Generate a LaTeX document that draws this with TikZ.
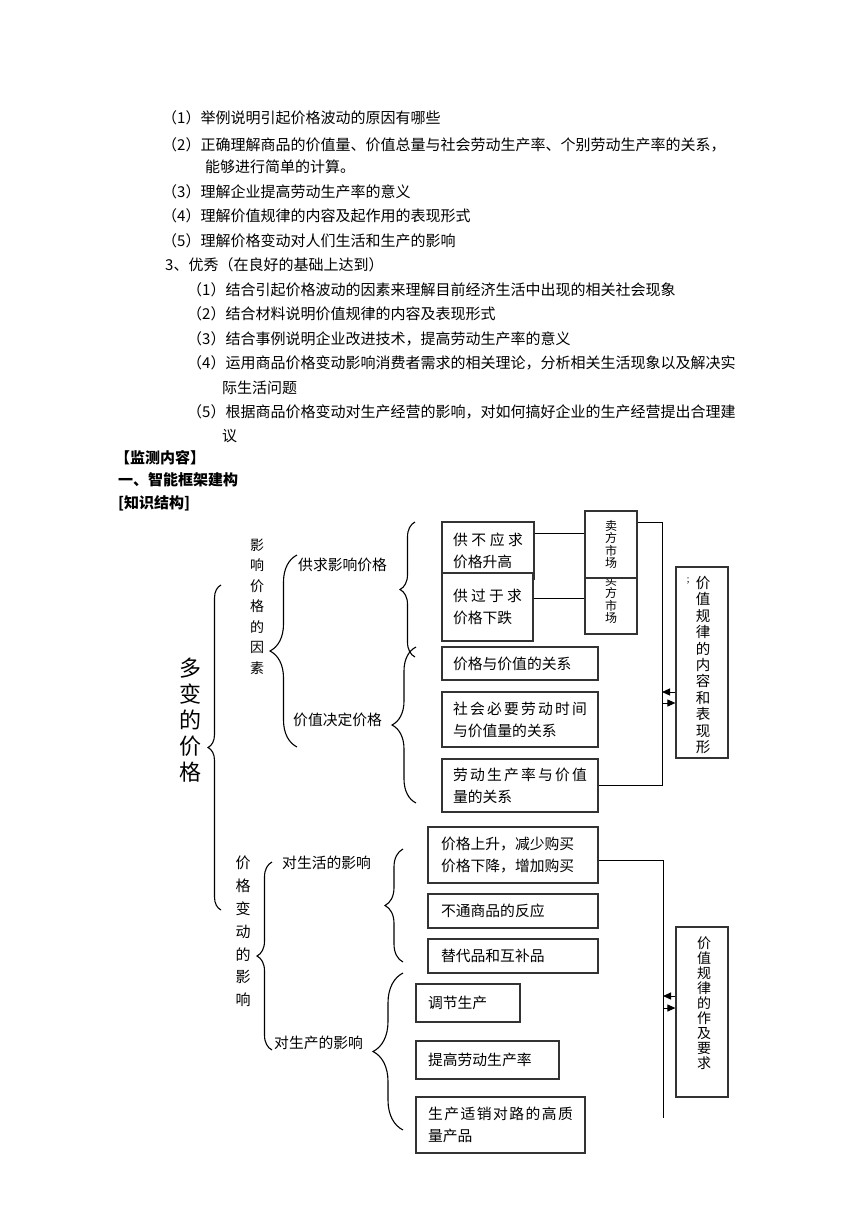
\documentclass[tikz,border=0pt]{standalone}
\usepackage{fontspec}
\setmainfont{Noto Sans CJK SC}
\usetikzlibrary{arrows.meta,decorations.pathreplacing}
\begin{document}
\begin{tikzpicture}[x=1pt,y=-1pt,
  every node/.style={inner sep=0pt},
  txt/.style={anchor=west,font=\fontsize{15}{18}\selectfont},
  hd/.style={anchor=west,font=\fontsize{15}{18}\selectfont\bfseries},
  bx/.style={draw=black!80,line width=1.2pt,fill=white,font=\fontsize{14.8}{22}\selectfont,align=left,inner xsep=11pt},
  vbx/.style={draw=black!80,line width=1.2pt,fill=white,minimum width=52pt},
  lbl/.style={anchor=west,font=\fontsize{14.8}{18}\selectfont},
  conn/.style={line width=1pt},
  arr/.style={line width=1pt,-{Triangle[length=8pt,width=7pt]}},
  brc/.style={decorate,line width=1.1pt},
]
\fill[white] (0,0) rectangle (860,1216);
\useasboundingbox (0,0) rectangle (860,1216);

% ---------- top text ----------
\node[txt] (t1) at (162,118) {（1）举例说明引起价格波动的原因有哪些};
\node[txt] (t2) at (162,145) {（2）正确理解商品的价值量、价值总量与社会劳动生产率、个别劳动生产率的关系，};
\node[txt] (t2b) at (205,167) {能够进行简单的计算。};
\node[txt] (t3) at (162,192) {（3）理解企业提高劳动生产率的意义};
\node[txt] (t4) at (162,216) {（4）理解价值规律的内容及起作用的表现形式};
\node[txt] (t5) at (162,241) {（5）理解价格变动对人们生活和生产的影响};
\node[txt] (s3) at (165,265) {3、优秀（在良好的基础上达到）};
\node[txt] (e1) at (187,290) {（1）结合引起价格波动的因素来理解目前经济生活中出现的相关社会现象};
\node[txt] (e2) at (187,314) {（2）结合材料说明价值规律的内容及表现形式};
\node[txt] (e3) at (187,339) {（3）结合事例说明企业改进技术，提高劳动生产率的意义};
\node[txt] (e4) at (187,363) {（4）运用商品价格变动影响消费者需求的相关理论，分析相关生活现象以及解决实};
\node[txt] (e4b) at (222,388) {际生活问题};
\node[txt] (e5) at (187,412) {（5）根据商品价格变动对生产经营的影响，对如何搞好企业的生产经营提出合理建};
\node[txt] (e5b) at (222,436) {议};
\node[hd] (h1) at (115,458) {【监测内容】};
\node[hd] (h2) at (118,480) {一、智能框架建构};
\node[hd] (h3) at (118,503) {[知识结构]};

% ---------- upper diagram ----------
\node[font=\fontsize{22}{26}\selectfont,align=center] (dbj) at (190,720) {多\\变\\的\\价\\格};
\node[font=\fontsize{14}{20.5}\selectfont,align=center] (yx) at (257,606.5) {影\\响\\价\\格\\的\\因\\素};
\node[lbl] (gq) at (298,565) {供求影响价格};
\node[lbl] (jz) at (293,720) {价值决定价格};

\draw[brc,decoration={brace,amplitude=13pt}] (221,910) -- (221,585);
\draw[brc,decoration={brace,amplitude=27pt}] (297,747) -- (297,555);
\draw[brc,decoration={brace,amplitude=15pt}] (415,657) -- (415,522);
\draw[brc,decoration={brace,amplitude=24pt}] (416,803) -- (416,647);

\node[bx,text width=70pt,minimum height=57pt] (g1) at (488,550.5)
  {\makebox[70pt][s]{供\hfill 不\hfill 应\hfill 求}\\价格升高};
\node[bx,text width=69pt,minimum height=68pt] (g2) at (487.5,607)
  {\makebox[69pt][s]{供\hfill 过\hfill 于\hfill 求}\\价格下跌};

\node[vbx,minimum height=68pt,align=center,font=\fontsize{12}{12.5}\selectfont] (mai2) at (611,600) {买\\方\\市\\场};
\node[vbx,minimum height=67pt,align=center,font=\fontsize{12}{12.5}\selectfont] (mai1) at (611,544.5) {卖\\方\\市\\场};

\node[bx,text width=134pt,minimum height=33pt] (pv) at (520,663.5) {价格与价值的关系};
\node[bx,text width=134pt,minimum height=55pt] (sh) at (520,719.5)
  {\makebox[134pt][s]{社\hfill 会\hfill 必\hfill 要\hfill 劳\hfill 动\hfill 时\hfill 间}\\与价值量的关系};
\node[bx,text width=134pt,minimum height=53pt] (ld) at (520,785.5)
  {\makebox[134pt][s]{劳\hfill 动\hfill 生\hfill 产\hfill 率\hfill 与\hfill 价\hfill 值}\\量的关系};

\node[vbx,minimum height=191pt] (r1) at (702,662.5) {};
\node[font=\fontsize{14.5}{16.4}\selectfont,align=center] (r1t) at (703,665) {价\\值\\规\\律\\的\\内\\容\\和\\表\\现\\形};
\node[font=\fontsize{9}{9}\selectfont] (r1m) at (688,581) {;};

\coordinate (c1) at (0,533);
\coordinate (c2) at (0,598);
\coordinate (v1t) at (662,522);
\coordinate (v1b) at (662,785.5);
\coordinate (ya1) at (0,692);
\coordinate (ya2) at (0,703);
\draw[conn] (g1.east |- c1) -- (mai1.west |- c1);
\draw[conn] (g2.east |- c2) -- (mai2.west |- c2);
\draw[conn] (mai1.east |- v1t) -- (v1t) -- (v1b) -- (ld.east);
\draw[arr] (r1.west |- ya1) -- (v1t |- ya1);
\draw[arr] (v1t |- ya2) -- (r1.west |- ya2);

% ---------- lower diagram ----------
\node[font=\fontsize{15}{22.8}\selectfont,align=center] (jg) at (243,931.5) {价\\格\\变\\动\\的\\影\\响};
\node[lbl] (sl) at (282,863) {对生活的影响};
\node[lbl] (sc) at (274,1043) {对生产的影响};

\draw[brc,decoration={brace,amplitude=15pt}] (272,1050) -- (272,862);
\draw[brc,decoration={brace,amplitude=18pt}] (403,962) -- (403,849);
\draw[brc,decoration={brace,amplitude=30pt}] (403,1130) -- (403,973);

\node[bx,inner xsep=13pt,text width=144pt,minimum height=56pt] (b1) at (513,855) {价格上升，减少购买\\价格下降，增加购买};
\node[bx,inner xsep=13pt,text width=144pt,minimum height=34pt] (b2) at (513,911) {不通商品的反应};
\node[bx,inner xsep=13pt,text width=144pt,minimum height=34pt] (b3) at (513,956) {替代品和互补品};
\node[bx,inner xsep=12pt,text width=80pt,minimum height=38pt] (p1) at (468,1003) {调节生产};
\node[bx,inner xsep=12pt,text width=119pt,minimum height=38pt] (p2) at (487.5,1060) {提高劳动生产率};
\node[bx,inner xsep=12pt,text width=145pt,minimum height=56pt] (p3) at (500.5,1125)
  {\makebox[145pt][s]{生\hfill 产\hfill 适\hfill 销\hfill 对\hfill 路\hfill 的\hfill 高\hfill 质}\\量产品};

\node[vbx,minimum height=170pt] (r2) at (702,1012) {};
\node[font=\fontsize{14}{15}\selectfont,align=center] (r2t) at (704,1003) {价\\值\\规\\律\\的\\作\\及\\要\\求};

\coordinate (v2t) at (663,860);
\coordinate (v2b) at (663,1118);
\coordinate (yb1) at (0,996);
\coordinate (yb2) at (0,1008);
\draw[conn] (b1.east |- v2t) -- (v2t) -- (v2b);
\draw[arr] (r2.west |- yb1) -- (v2t |- yb1);
\draw[arr] (v2t |- yb2) -- (r2.west |- yb2);
\end{tikzpicture}
\end{document}
